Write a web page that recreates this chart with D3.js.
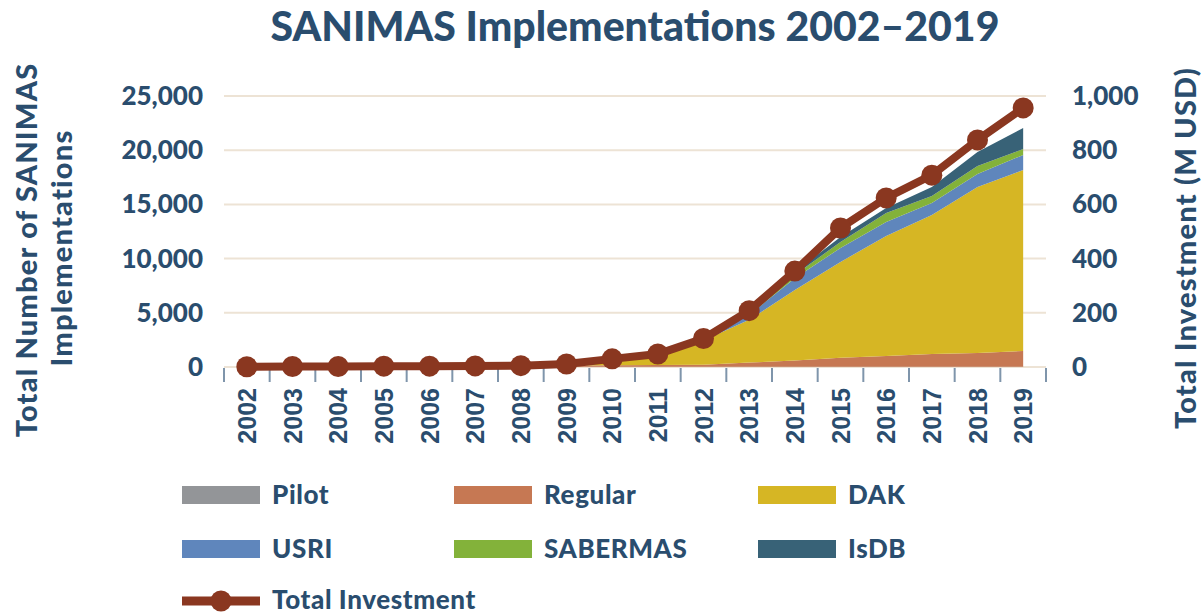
<!DOCTYPE html>
<html>
<head>
<meta charset="utf-8">
<script src="https://cdn.jsdelivr.net/npm/d3@7"></script>
<style>
  body { margin: 0; background: #fff; }
  text { font-family: Lato, "Open Sans", sans-serif; font-weight: 900; fill: #2a4d6e; }
  .xtick { font-family: "Liberation Sans", Arial, sans-serif; font-weight: 700; }
</style>
</head>
<body>
<svg width="1201" height="614"></svg>
<script>
const years = [2002, 2003, 2004, 2005, 2006, 2007, 2008, 2009, 2010, 2011, 2012, 2013, 2014, 2015, 2016, 2017, 2018, 2019];

// number of implementations per programme (cumulative)
const pilot    = [7, 14, 14, 14, 14, 14, 14, 14, 14, 14, 14, 14, 14, 14, 14, 14, 14, 14];
const regular  = [0, 0, 0, 20, 50, 80, 100, 120, 150, 180, 200, 400, 580, 830, 1000, 1180, 1280, 1470];
const dak      = [0, 0, 0, 0, 0, 0, 0, 70, 290, 960, 2240, 3940, 6500, 8850, 11070, 12830, 15310, 16690];
const usri     = [0, 0, 0, 0, 0, 0, 0, 10, 30, 50, 130, 450, 1100, 1290, 1300, 1110, 1200, 1390];
const sabermas = [0, 0, 0, 0, 0, 0, 0, 0, 0, 10, 40, 100, 300, 550, 820, 640, 740, 550];
const isdb     = [0, 0, 0, 0, 0, 0, 0, 0, 0, 0, 20, 50, 260, 470, 470, 830, 1300, 1940];

// total investment, M USD
const investment = [1, 2, 2, 3, 3, 4, 5, 11, 30, 48, 105, 208, 354, 513, 624, 708, 838, 956];

const leftTicks = [0, 5000, 10000, 15000, 20000, 25000];
const rightTicks = [0, 200, 400, 600, 800, 1000];

const seriesNames = ["Pilot", "Regular", "DAK", "USRI", "SABERMAS", "IsDB"];
const seriesValues = [pilot, regular, dak, usri, sabermas, isdb];
const colors = ["#939598", "#c67853", "#d6b624", "#5f86bc", "#83b23a", "#386277"];
const lineColor = "#8a3720";

const svg = d3.select("svg");

const x = d3.scaleBand().domain(years).range([224, 1046]);
const cx = d => x(d) + x.bandwidth() / 2;
const yLeft = d3.scaleLinear().domain([0, 25000]).range([367, 96]);
const yRight = d3.scaleLinear().domain([0, 1000]).range([367, 96]);

// title
svg.append("text")
  .attr("x", 635).attr("y", 41)
  .attr("text-anchor", "middle")
  .style("font-size", "41px")
  .text("SANIMAS Implementations 2002\u20132019");

// gridlines
svg.append("g").selectAll("line")
  .data(leftTicks)
  .enter().append("line")
  .attr("x1", 224).attr("x2", 1046)
  .attr("y1", d => yLeft(d)).attr("y2", d => yLeft(d))
  .attr("stroke", "#ede3d5").attr("stroke-width", 2);

// stacked areas
const table = years.map((yr, i) => {
  const row = { year: yr };
  seriesNames.forEach((n, j) => row[n] = seriesValues[j][i]);
  return row;
});
const stacked = d3.stack().keys(seriesNames)(table);

const area = d3.area()
  .x(d => cx(d.data.year))
  .y0(d => yLeft(d[0]))
  .y1(d => yLeft(d[1]));

svg.append("g").selectAll("path")
  .data(stacked)
  .enter().append("path")
  .attr("d", area)
  .attr("fill", (d, i) => colors[i]);

// x axis ticks
svg.append("g").selectAll("line")
  .data(d3.range(years.length + 1))
  .enter().append("line")
  .attr("x1", i => 224 + i * x.bandwidth())
  .attr("x2", i => 224 + i * x.bandwidth())
  .attr("y1", 368).attr("y2", 382)
  .attr("stroke", "#7f95ab").attr("stroke-width", 2);

svg.append("g").selectAll("text")
  .data(years)
  .enter().append("text")
  .attr("class", "xtick")
  .attr("text-anchor", "end")
  .attr("transform", d => `translate(${cx(d) + 9},388) rotate(-90)`)
  .style("font-size", "25px")
  .text(d => d);

// left / right tick labels
svg.append("g").selectAll("text")
  .data(leftTicks)
  .enter().append("text")
  .attr("x", 203).attr("y", d => yLeft(d) + 9)
  .attr("text-anchor", "end")
  .style("font-size", "26px")
  .text(d => d3.format(",")(d));

svg.append("g").selectAll("text")
  .data(rightTicks)
  .enter().append("text")
  .attr("x", 1072).attr("y", d => yRight(d) + 9)
  .style("font-size", "26px")
  .text(d => d3.format(",")(d));

// axis titles
svg.append("text")
  .attr("transform", "translate(37,250) rotate(-90)")
  .attr("text-anchor", "middle")
  .style("font-size", "29px")
  .style("letter-spacing", "1.2px")
  .text("Total Number of SANIMAS");
svg.append("text")
  .attr("transform", "translate(72,248) rotate(-90)")
  .attr("text-anchor", "middle")
  .style("font-size", "29px")
  .style("letter-spacing", "1.2px")
  .text("Implementations");
svg.append("text")
  .attr("transform", "translate(1196,248) rotate(-90)")
  .attr("text-anchor", "middle")
  .style("font-size", "29px")
  .style("letter-spacing", "1.2px")
  .text("Total Investment (M USD)");

// investment line
const line = d3.line()
  .x((d, i) => cx(years[i]))
  .y(d => yRight(d));

svg.append("path")
  .datum(investment)
  .attr("d", line)
  .attr("fill", "none")
  .attr("stroke", lineColor)
  .attr("stroke-width", 8);

svg.append("g").selectAll("circle")
  .data(investment)
  .enter().append("circle")
  .attr("cx", (d, i) => cx(years[i]))
  .attr("cy", d => yRight(d))
  .attr("r", 10.5)
  .attr("fill", lineColor);

// legend
const legendItems = seriesNames.map((n, i) => ({ name: n, color: colors[i] }));
const colX = [182, 454, 758];
const rowY = [495, 549];

const legend = svg.append("g");
legendItems.forEach((item, i) => {
  const lx = colX[i % 3];
  const ly = rowY[Math.floor(i / 3)];
  legend.append("rect")
    .attr("x", lx).attr("y", ly - 9)
    .attr("width", 78).attr("height", 18)
    .attr("fill", item.color);
  legend.append("text")
    .attr("x", lx + 90).attr("y", ly + 9)
    .style("font-size", "26px")
    .style("letter-spacing", "0.6px")
    .text(item.name);
});

legend.append("line")
  .attr("x1", 182).attr("x2", 260)
  .attr("y1", 601).attr("y2", 601)
  .attr("stroke", lineColor).attr("stroke-width", 9);
legend.append("circle")
  .attr("cx", 221).attr("cy", 601).attr("r", 10.5)
  .attr("fill", lineColor);
legend.append("text")
  .attr("x", 272).attr("y", 609)
  .style("font-size", "26px")
  .style("letter-spacing", "0.6px")
  .text("Total Investment");
</script>
</body>
</html>
